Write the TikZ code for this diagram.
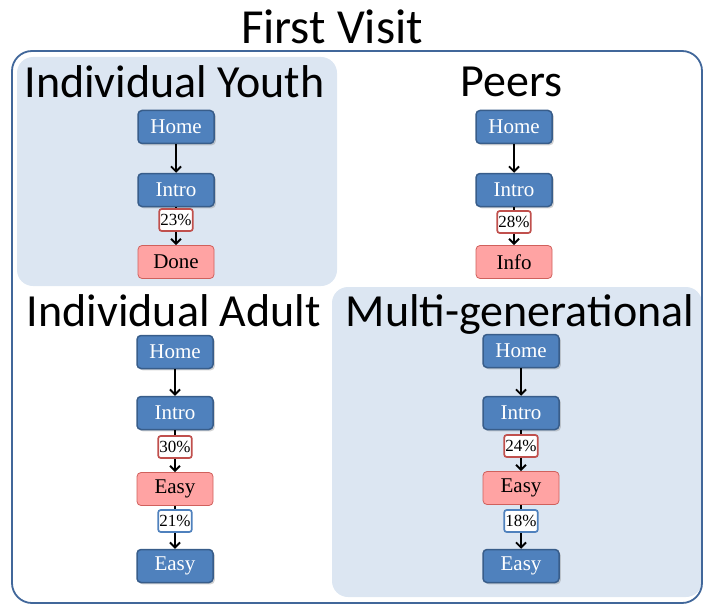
\documentclass[tikz,border=0pt]{standalone}
\usepackage{fontspec}
\setmainfont{Liberation Serif}
\newfontfamily\headfont{Carlito}
\usetikzlibrary{arrows.meta,shadows,positioning}
\definecolor{boxblue}{HTML}{4F81BD}
\definecolor{boxblueline}{HTML}{385D8A}
\definecolor{boxpink}{HTML}{FFA3A3}
\definecolor{boxpinkline}{HTML}{D0605C}
\definecolor{tagred}{HTML}{C0504D}
\definecolor{panelfill}{HTML}{DCE6F2}
\definecolor{frameblue}{HTML}{41679A}
\tikzset{
  page/.style={x=1pt,y=-1pt},
  bluebox/.style={rectangle, rounded corners=4pt, draw=boxblueline, line width=1.5pt,
    fill=boxblue, text=white, minimum width=76pt, minimum height=33pt, inner sep=0pt,
    font=\fontsize{21}{21}\selectfont,
    drop shadow={shadow xshift=1.8pt, shadow yshift=-1.8pt, opacity=0.35}},
  pinkbox/.style={rectangle, rounded corners=4pt, draw=boxpinkline, line width=0.8pt,
    fill=boxpink, text=black, minimum width=76pt, minimum height=33pt, inner sep=0pt,
    font=\fontsize{21}{21}\selectfont},
  redtag/.style={rectangle, rounded corners=2.5pt, draw=tagred, line width=1.7pt, fill=white,
    inner sep=1.2pt, minimum height=22pt, font=\fontsize{17}{17}\selectfont},
  bluetag/.style={redtag, draw=boxblue},
  flow/.style={-{Straight Barb[length=5pt,width=10pt,line width=1.9pt]}, line width=2.1pt, black},
  panel/.style={fill=panelfill, rounded corners=16pt},
  paneltitle/.style={anchor=base, font=\headfont\fontsize{46}{46}\selectfont},
}
\begin{document}
\begin{tikzpicture}[page]
\useasboundingbox (0,0) rectangle (703,604);
% shaded panels
\fill[panel] (17,57) rectangle (337,286);
\fill[panel] (332,287) rectangle (702,597);
% outer frame
\draw[frameblue, line width=1.8pt, rounded corners=20pt] (12,51) rectangle (702,603);
% titles
\node[anchor=base, font=\headfont\fontsize{49}{49}\selectfont] (title) at (332,44) {First Visit};
\node[paneltitle] (tyouth) at (174.5,98) {Individual Youth};
\node[paneltitle] (tpeers) at (511.5,97) {Peers};
\node[paneltitle] (tadult) at (174,326) {Individual Adult};
\node[paneltitle] (tmulti) at (520,326) {Multi-generational};

% Individual Youth
\node[bluebox] (yh) at (176,127) {Home};
\node[bluebox] (yi) at (176,190) {Intro};
\node[pinkbox] (yd) at (176,262) {Done};
\draw[flow] (yh) -- (yi);
\draw[flow] (yi) -- (yd);
\node[redtag] (yt) at (176,220) {23\%};

% Peers
\node[bluebox] (ph) at (514,127) {Home};
\node[bluebox] (pi) at (514,190) {Intro};
\node[pinkbox] (pd) at (514,262) {Info};
\draw[flow] (ph) -- (pi);
\draw[flow] (pi) -- (pd);
\node[redtag] (pt) at (514,222) {28\%};

% Individual Adult
\node[bluebox] (ah) at (175,352) {Home};
\node[bluebox] (ai) at (175,413) {Intro};
\node[pinkbox] (ae) at (175,489) {Easy};
\node[bluebox] (af) at (175,566) {Easy};
\draw[flow] (ah) -- (ai);
\draw[flow] (ai) -- (ae);
\draw[flow] (ae) -- (af);
\node[redtag] (at1) at (175,447) {30\%};
\node[bluetag] (at2) at (175,521) {21\%};

% Multi-generational
\node[bluebox] (mh) at (521,351) {Home};
\node[bluebox] (mi) at (521,413) {Intro};
\node[pinkbox] (me) at (521,488) {Easy};
\node[bluebox] (mf) at (521,566) {Easy};
\draw[flow] (mh) -- (mi);
\draw[flow] (mi) -- (me);
\draw[flow] (me) -- (mf);
\node[redtag] (mt1) at (521,446) {24\%};
\node[bluetag] (mt2) at (521,521) {18\%};
\end{tikzpicture}
\end{document}
